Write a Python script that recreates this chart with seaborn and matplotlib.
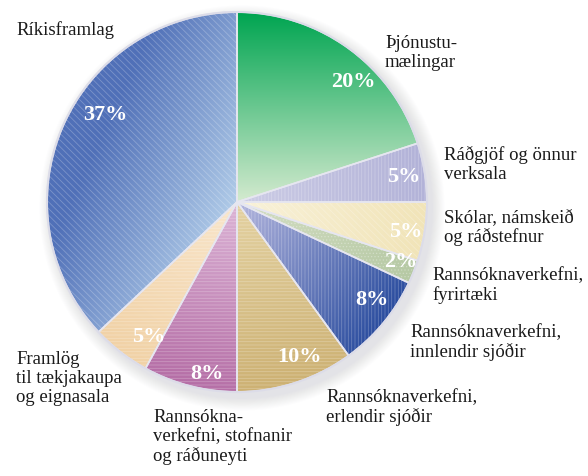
import numpy as np
import matplotlib.pyplot as plt
import seaborn as sns
from matplotlib.patches import Circle, Wedge

# Data (clockwise from 12 o'clock)
categories = ['Þjónustumælingar', 'Ráðgjöf og önnur verksala',
              'Skólar, námskeið og ráðstefnur', 'Rannsóknaverkefni, fyrirtæki',
              'Rannsóknaverkefni, innlendir sjóðir', 'Rannsóknaverkefni, erlendir sjóðir',
              'Rannsóknaverkefni, stofnanir og ráðuneyti',
              'Framlög til tækjakaupa og eignasala', 'Ríkisframlag']
shares = [20, 5, 5, 2, 8, 10, 8, 5, 37]
label_text = ['Þjónustu-\nmælingar', 'Ráðgjöf og önnur\nverksala',
              'Skólar, námskeið\nog ráðstefnur', 'Rannsóknaverkefni,\nfyrirtæki',
              'Rannsóknaverkefni,\ninnlendir sjóðir', 'Rannsóknaverkefni,\nerlendir sjóðir',
              'Rannsókna-\nverkefni, stofnanir\nog ráðuneyti',
              'Framlög\ntil tækjakaupa\nog eignasala', 'Ríkisframlag']

# light (centre) / dark (outer) colour for each slice gradient
light_cols = ['#d4eacf', '#cdcde6', '#f9f2da', '#d4dec4', '#b4b6de',
              '#e4d2a2', '#dcb4d6', '#f9e6cc', '#b0cbe8']
dark_cols = ['#00a551', '#b2b2d8', '#f1e4b8', '#b6c9a4', '#2b4d9f',
             '#cdb173', '#b56ea6', '#f1d2a6', '#5070b8']
grad_dir = [0, 81, 99, 111, 125, 170, 195, 218, 295]
grad_len = [1.0, 1.0, 1.0, 1.0, 1.0, 1.0, 1.0, 1.0, 0.8]
hatches = [None, '|||||', '\\\\\\\\\\', '.....', '|||||', '-----', '-----', '-----', '\\\\\\\\\\']

sns.set_theme(style='white')
plt.rcParams['font.family'] = ['Liberation Serif', 'DejaVu Serif']
plt.rcParams['hatch.linewidth'] = 0.6

W, H = 588, 476
fig = plt.figure(figsize=(5.88, 4.76), dpi=100)
ax = fig.add_axes([0, 0, 1, 1])
cx, cy, R = 237, H - 202, 190

# soft drop shadow, offset to the lower right
for k in range(14, 0, -1):
    ax.add_patch(Circle((cx + 5, cy - 6), R + k * 0.9, color='#6a7896',
                        alpha=0.012, lw=0, zorder=0.5))

wedges, _, pcts = ax.pie(
    shares, startangle=90, counterclock=False, center=(cx, cy), radius=R,
    colors=dark_cols, autopct=lambda p: f'{p:.0f}%', pctdistance=0.88,
    wedgeprops=dict(linewidth=0, zorder=1),
    textprops=dict(color='white', fontsize=16, fontweight='bold', zorder=5))

yy, xx = np.mgrid[cy - R:cy + R:400j, cx - R:cx + R:400j]
for i, w in enumerate(wedges):
    a = np.radians(grad_dir[i])
    t = np.clip(((xx - cx) * np.sin(a) + (yy - cy) * np.cos(a)) / (R * grad_len[i]), 0, 1)
    cmap = sns.blend_palette([light_cols[i], dark_cols[i]], as_cmap=True)
    im = ax.imshow(t, cmap=cmap, vmin=0, vmax=1, origin='lower',
                   extent=(cx - R, cx + R, cy - R, cy + R),
                   interpolation='bilinear', zorder=2)
    im.set_clip_path(w)
    # texture + slice borders
    ax.add_patch(Wedge((cx, cy), R, w.theta1, w.theta2, fill=False,
                       hatch=hatches[i], edgecolor=(1, 1, 1, 0.25), lw=0, zorder=3))
    ax.add_patch(Wedge((cx, cy), R, w.theta1, w.theta2, fill=False,
                       edgecolor='#e6e6f0', lw=1.2, zorder=4))

ax.add_patch(Circle((cx, cy), R, fill=False, edgecolor='#dcdce8', lw=1.5, zorder=4))

# percentage labels nudged like the reference
pct_shift = [-8, -0.5, -1, 1.6, 3.6, 4, 4.4, 4.8, -10.2]
pct_dist = [0.88, 0.89, 0.9, 0.92, 0.88, 0.88, 0.92, 0.85, 0.83]
for i, (w, txt) in enumerate(zip(wedges, pcts)):
    ang = np.radians((w.theta1 + w.theta2) / 2 + pct_shift[i])
    txt.set_position((cx + pct_dist[i] * R * np.cos(ang),
                      cy + pct_dist[i] * R * np.sin(ang)))
    txt.set_ha('center')
    txt.set_va('center')

# category labels (top-left corner in pixels)
label_pos = [(385, 35), (444, 146), (444, 209), (432, 267), (410, 324),
             (326, 389), (153, 409), (16, 351), (16, 21)]
for s, (x, y) in zip(label_text, label_pos):
    ax.text(x, H - y, s, ha='left', va='top', fontsize=13.5, color='#1a1a1a',
            linespacing=1.15, zorder=6)

ax.set_xlim(0, W)
ax.set_ylim(0, H)
ax.set_aspect('equal')
ax.axis('off')

fig.savefig('out.png', dpi=100)
